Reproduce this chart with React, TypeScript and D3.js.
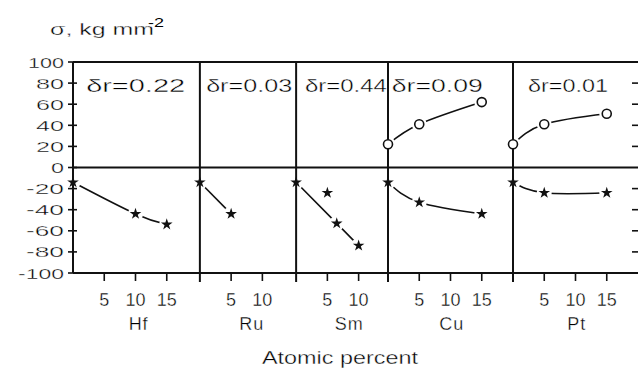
import React from "react";
import * as d3 from "d3";

const W = 639;
const H = 370;

// Panels (solute elements) and their Atomic-percent span
const elements = ["Hf", "Ru", "Sm", "Cu", "Pt"];
const panelSpan = [20.3, 15.4, 14.7, 20, 20];
const xTicks = [[5, 10, 15], [5, 10], [5, 10], [5, 10, 15], [5, 10, 15]];
const elementLabelPct = [10.5, 8.3, 8.5, 10.2, 10.2];
const deltaR = ["0.22", "0.03", "0.44", "0.09", "0.01"];
const deltaLabelPct = [2.1, 1.0, 1.4, 0.6, 2.4];
const deltaLabelWidth = [99, 86, 82, 91, 80];

// Star series (lower branch)
const starPct = [[0, 10, 15], [0, 5], [0, 6.5, 10], [0, 5, 15], [0, 5, 15]];
const starVal = [[-14, -44, -54], [-14, -44], [-14, -53, -74], [-14, -33, -44], [-14, -24, -24]];
// Isolated star (no curve) in Sm panel
const extraStarPanel = [2];
const extraStarPct = [5];
const extraStarVal = [-24];
// Circle series (upper branch)
const circlePct = [[], [], [], [0, 5, 15], [0, 5, 15]];
const circleVal = [[], [], [], [22, 41, 62], [22, 41, 51]];

const yTicks = d3.range(-100, 101, 20);
const rightTicks = [-80, -60, -40, -20, 20, 40, 60, 80];

const FONT = "'Liberation Sans', Arial, sans-serif";

const left = 73, right = 638, top = 62, bottom = 273;

const thin = { stroke: "#fff", strokeWidth: 0.35 };

export default function App() {
  const total = d3.sum(panelSpan);
  const gx = d3.scaleLinear().domain([0, total]).range([left, right]);
  const y = d3.scaleLinear().domain([-100, 100]).range([bottom, top]);
  const starts = panelSpan.map((_, i) => d3.sum(panelSpan.slice(0, i)));
  const px = (panel: number, pct: number) => gx(starts[panel] + pct);
  const boundaries = starts.slice(1).map((s) => gx(s));

  const line = d3
    .line<[number, number]>()
    .x((d) => d[0])
    .y((d) => d[1])
    .curve(d3.curveNatural);

  const starPath = d3.symbol().type(d3.symbolStar).size(42)() as string;

  const numLen = (s: string) =>
    s.split("").reduce((a, c) => a + (c === "1" ? 8 : c === "-" ? 10 : 15), 0);

  const starPts = starPct.map((arr, i) => arr.map((p, j) => [px(i, p), y(starVal[i][j])] as [number, number]));
  const circPts = circlePct.map((arr, i) => arr.map((p, j) => [px(i, p), y(circleVal[i][j])] as [number, number]));
  const extraPts = extraStarPanel.map((pi, k) => [px(pi, extraStarPct[k]), y(extraStarVal[k])] as [number, number]);
  const allMarkers = [...starPts.flat(), ...circPts.flat(), ...extraPts];

  return (
    <svg
      width={W}
      height={H}
      style={{ position: "absolute", left: 0, top: 0, background: "#fff" }}
      fontFamily={FONT}
    >
      <rect x={0} y={0} width={W} height={H} fill="#fff" />
      {/* title */}
      <text x={50} y={35} fontSize={17} textLength={104} lengthAdjust="spacingAndGlyphs" fill="#000" {...thin}>
        σ, kg mm
      </text>
      <text x={148} y={27} fontSize={13} textLength={16} lengthAdjust="spacingAndGlyphs" fill="#000">
        -2
      </text>

      {/* curves */}
      <g fill="none" stroke="#111" strokeWidth={1.6}>
        {starPts.map((pts, i) => (pts.length > 1 ? <path key={"s" + i} d={line(pts) as string} /> : null))}
        {circPts.map((pts, i) => (pts.length > 1 ? <path key={"c" + i} d={line(pts) as string} /> : null))}
      </g>
      {/* gaps around markers */}
      <g fill="#fff">
        {allMarkers.map((p, i) => (
          <circle key={i} cx={p[0]} cy={p[1]} r={7.5} />
        ))}
      </g>

      {/* frame */}
      <g stroke="#111" strokeWidth={2} fill="none">
        <line x1={left} x2={right} y1={top} y2={top} />
        <line x1={left} x2={right} y1={bottom} y2={bottom} />
        <line x1={left} x2={right} y1={y(0)} y2={y(0)} />
        <line x1={left} x2={left} y1={top} y2={bottom} />
        {boundaries.map((b, i) => (
          <line key={i} x1={b} x2={b} y1={top} y2={bottom + 9} />
        ))}
      </g>
      {/* left ticks */}
      <g stroke="#111" strokeWidth={1.6}>
        {yTicks.map((v) => (
          <line key={v} x1={left - 5} x2={v === 100 || v === -100 ? left : left + 4} y1={y(v)} y2={y(v)} />
        ))}
        {rightTicks.map((v) => (
          <line key={"r" + v} x1={right - 6} x2={right} y1={y(v)} y2={y(v)} />
        ))}
      </g>
      <g fontSize={15.5} fill="#000" textAnchor="end" {...thin}>
        {yTicks.map((v) => (
          <text
            key={v}
            x={64}
            y={y(v) + 5.5}
            textLength={numLen(String(v)) - 2}
            lengthAdjust="spacingAndGlyphs"
          >
            {String(v)}
          </text>
        ))}
      </g>

      {/* bottom ticks & labels */}
      {xTicks.map((ticks, i) => (
        <g key={i}>
          {ticks.map((t) => (
            <g key={t}>
              <line x1={px(i, t)} x2={px(i, t)} y1={bottom} y2={bottom + 8} stroke="#111" strokeWidth={1.6} />
              <text x={px(i, t)} y={306} fontSize={18} textAnchor="middle" fill="#000" {...thin}>
                {t}
              </text>
            </g>
          ))}
          <text x={px(i, elementLabelPct[i])} y={330} fontSize={18} textAnchor="middle" fill="#000" letterSpacing={1} {...thin}>
            {elements[i]}
          </text>
          <text
            x={px(i, deltaLabelPct[i])}
            y={92}
            fontSize={17.5}
            fill="#000"
            textLength={deltaLabelWidth[i]}
            lengthAdjust="spacingAndGlyphs"
            {...thin}
          >
            {"δr=" + deltaR[i]}
          </text>
        </g>
      ))}
      <text x={262} y={364} fontSize={18} fill="#000" textLength={156} lengthAdjust="spacingAndGlyphs" {...thin}>
        Atomic percent
      </text>

      {/* markers */}
      <g fill="#111">
        {[...starPts.flat(), ...extraPts].map((p, i) => (
          <path key={i} d={starPath} transform={`translate(${p[0]},${p[1]})`} />
        ))}
      </g>
      <g fill="#fff" stroke="#111" strokeWidth={1.6}>
        {circPts.flat().map((p, i) => (
          <circle key={i} cx={p[0]} cy={p[1]} r={4.5} />
        ))}
      </g>
    </svg>
  );
}
